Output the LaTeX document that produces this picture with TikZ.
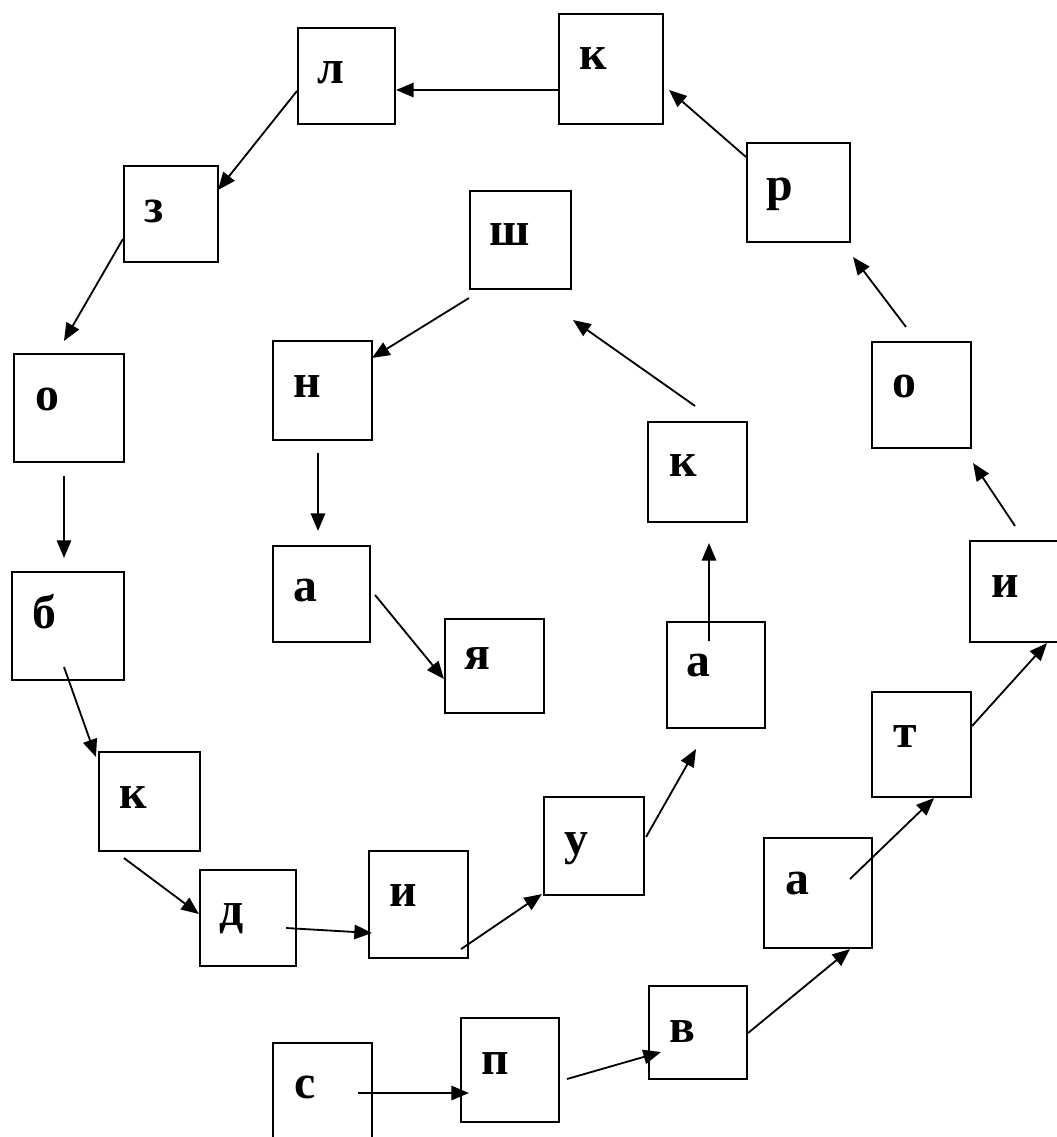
\documentclass[tikz,border=0pt]{standalone}
\usepackage{fontspec}
\setmainfont{Liberation Serif}
\usepackage{tikz}
\usetikzlibrary{arrows.meta, calc}
\tikzset{
  box/.style={rectangle, draw=black, line width=1.5pt, inner sep=0pt},
  letter/.style={anchor=base, inner sep=0pt, font=\fontsize{34}{40}\selectfont\bfseries},
  arrow/.style={-{Triangle[length=0.44cm, width=0.36cm]}, line width=1.3pt}
}

\begin{document}
\begin{tikzpicture}[x=0.025cm, y=-0.025cm]
  \useasboundingbox (0,0) rectangle (1057,1137);
  \clip (0,0) rectangle (1057,1137);

  % boxes of the spiral: name/centre/size, then the letter on its baseline
  \foreach \nm/\cx/\cy/\w/\h/\lx/\ly/\ch in {
      s/322.5/1095.5/99/105/305/1098/с,
      p/510/1070/98/104/495/1074/п,
      v/698/1032.5/98/93/682/1042/в,
      a1/818/893/108/110/797/894/а,
      t/921.5/744.5/99/105/905/747/т,
      i1/1020/591.5/100/101/1005/597/и,
      o1/921.5/395/99/106/904/397/о,
      r/798.5/192.5/103/99/780/200/р,
      k1/611/69/104/110/593/70/к,
      l/346.5/76/97/96/331/84/л,
      z/171/214/94/96/154/222/з,
      o2/69/408/110/108/47/410/о,
      b/68/626/112/108/44/628/б,
      k2/149.5/801.5/101/99/133/808/к,
      d/248/918/96/96/232/925/д,
      i2/418.5/904.5/99/107/403/906/и,
      u/594/846/100/98/576/854/у,
      a2/716/675/98/106/698/676/а,
      k3/697.5/472/99/100/683/476/к,
      sh/520.5/240/101/98/510/245/ш,
      n/322.5/390.5/99/99/307/397/н,
      a3/321.5/594/97/96/305/601/а,
      ya/494.5/666/99/94/477/669/я}
  {
    \node[box, minimum width=\w*0.025cm, minimum height=\h*0.025cm] (\nm) at (\cx,\cy) {};
    \node[letter] (\nm-l) at (\lx,\ly) {\ch};
  }

  % outer turn
  \draw[arrow] ($(s.east)+(-15,-2.5)$) -- ($(p.west)+(9,23)$);
  \draw[arrow] ($(p.east)+(7,9)$) -- ($(v.west)+(13,19.5)$);
  \draw[arrow] ($(v.east)+(0,0.5)$) -- ($(a1.south)+(32,0)$);
  \draw[arrow] ($(a1.center)+(32,-14)$) -- ($(t.south)+(12.5,0)$);
  \draw[arrow] ($(t.east)+(0,-18.5)$) -- ($(i1.south)+(27,0)$);
  \draw[arrow] ($(i1.north)+(-5,-14)$) -- ($(o1.south east)+(1,14)$);
  \draw[arrow] ($(o1.north)+(-15.5,-14)$) -- ($(r.south east)+(2,14)$);
  \draw[arrow] ($(r.north west)+(0,15)$) -- ($(k1.east)+(5,21)$);
  \draw[arrow] ($(k1.west)+(0,21)$) -- ($(l.east)+(0,14)$);
  \draw[arrow] ($(l.west)+(0,15)$) -- ($(z.east)+(-1,-24)$);
  \draw[arrow] ($(z.west)+(0,25)$) -- ($(o2.north)+(-5,-12)$);
  \draw[arrow] ($(o2.south)+(-5,13)$) -- ($(b.north)+(-4,-13)$);
  \draw[arrow] ($(b.south)+(-4,-14)$) -- ($(k2.north west)+(-2,6)$);
  \draw[arrow] ($(k2.south)+(-25.5,6)$) -- ($(d.west)+(0,-4)$);
  \draw[arrow] ($(d.east)+(-11,10)$) -- ($(i2.west)+(4,28.5)$);
  \draw[arrow] ($(i2.south east)+(-8,-10)$) -- ($(u.south west)+(-1,-2)$);
  % inner turn
  \draw[arrow] ($(u.east)+(1,-9)$) -- ($(a2.south)+(-20,20)$);
  \draw[arrow] ($(a2.center)+(-7,-34)$) -- ($(k3.south)+(11.5,20)$);
  \draw[arrow] ($(k3.north)+(-2.5,-15)$) -- ($(sh.south east)+(1,30)$);
  \draw[arrow] ($(sh.south west)+(0,8)$) -- ($(n.north east)+(-1,18)$);
  \draw[arrow] ($(n.south)+(-4.5,12)$) -- ($(a3.north)+(-3.5,-14)$);
  \draw[arrow] ($(a3.east)+(4,1)$) -- ($(ya.west)+(0,13)$);
\end{tikzpicture}
\end{document}
